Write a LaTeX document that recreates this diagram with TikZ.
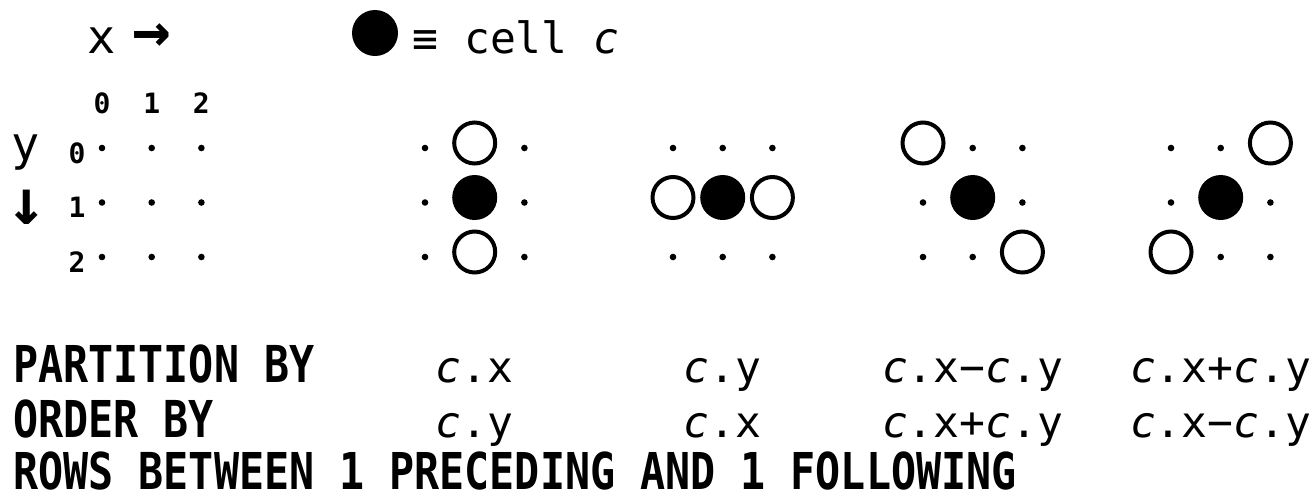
\documentclass[tikz,border=0pt]{standalone}
\usepackage{fontspec}
\setmainfont{DejaVu Sans Mono}
\newfontfamily\sqlfont{DejaVu Sans Mono}[FakeStretch=0.82]
\usepackage{tikz}

\newcommand{\cx}{\textit{c}.x}
\newcommand{\cy}{\textit{c}.y}

\tikzset{
    lbl/.style={inner sep=0pt, font=\fontsize{21.5}{24}\selectfont},
    axis/.style={inner sep=0pt, font=\fontsize{23.5}{26}\selectfont},
    arr/.style={inner sep=0pt, font=\fontsize{32}{34}\selectfont\bfseries},
    idx/.style={inner sep=0pt, anchor=base, font=\fontsize{14}{16}\selectfont\bfseries},
    sql/.style={inner sep=0pt, anchor=base west, font=\sqlfont\fontsize{25.4}{28}\selectfont\bfseries},
    ring/.style={line width=2pt},
}

\begin{document}
\begin{tikzpicture}[x=0.5pt, y=-0.5pt]
    \useasboundingbox (0,0) rectangle (1310,493);

    \node[axis, anchor=base] (xname) at (101.5,53) {x};
    \node[arr] (xdir) at (151.5,38) {→};
    \node[axis, anchor=base] (yname) at (26,160) {y};
    \node[arr] (ydir) at (27,207) {↓};

    \foreach \i in {0,1,2} {
        \node[idx] (col\i) at ({102+49.7*\i},113) {\i};
        \node[idx] (row\i) at (77,{163+54.5*\i}) {\i};
    }

    \fill (375,33) circle (11.5pt);
    \node[lbl, anchor=base west] (legend) at (412,53) {≡ cell \textit{c}};

    \foreach \i in {0,1,2}
        \foreach \j in {0,1,2}
            \fill ({102+49.7*\i},{148+54.5*\j}) circle (1.65pt);

    \foreach \j in {0,1,2} {
        \fill (425,{148+54.5*\j}) circle (1.65pt);
        \fill (524.4,{148+54.5*\j}) circle (1.65pt);
    }
    \draw[ring] (474.7,143) circle (10.25pt);
    \fill (474.7,197.5) circle (11.25pt);
    \draw[ring] (474.7,252) circle (10.25pt);

    \foreach \i in {0,1,2} {
        \fill ({673+49.7*\i},148) circle (1.65pt);
        \fill ({673+49.7*\i},257) circle (1.65pt);
    }
    \draw[ring] (673,197.5) circle (10.25pt);
    \fill (722.7,197.5) circle (11.25pt);
    \draw[ring] (772.4,197.5) circle (10.25pt);

    \foreach \i/\j in {1/0,2/0,0/1,2/1,0/2,1/2}
        \fill ({923+49.7*\i},{148+54.5*\j}) circle (1.65pt);
    \draw[ring] (923,143) circle (10.25pt);
    \fill (972.7,197.5) circle (11.25pt);
    \draw[ring] (1022.4,252) circle (10.25pt);

    \foreach \i/\j in {0/0,1/0,0/1,2/1,1/2,2/2}
        \fill ({1171+49.7*\i},{148+54.5*\j}) circle (1.65pt);
    \draw[ring] (1270.4,143) circle (10.25pt);
    \fill (1220.7,197.5) circle (11.25pt);
    \draw[ring] (1171,252) circle (10.25pt);

    \node[sql] (partition) at (13,382) {PARTITION BY};
    \node[sql] (order) at (13,437) {ORDER BY};
    \node[sql] (rows) at (13,489) {ROWS BETWEEN 1 PRECEDING AND 1 FOLLOWING};

    \node[lbl, anchor=base] (part1) at (474.7,382) {\cx};
    \node[lbl, anchor=base] (part2) at (722.7,382) {\cy};
    \node[lbl, anchor=base] (part3) at (972.7,382) {\cx−\cy};
    \node[lbl, anchor=base] (part4) at (1220.7,382) {\cx+\cy};

    \node[lbl, anchor=base] (ord1) at (474.7,437) {\cy};
    \node[lbl, anchor=base] (ord2) at (722.7,437) {\cx};
    \node[lbl, anchor=base] (ord3) at (972.7,437) {\cx+\cy};
    \node[lbl, anchor=base] (ord4) at (1220.7,437) {\cx−\cy};
\end{tikzpicture}
\end{document}
